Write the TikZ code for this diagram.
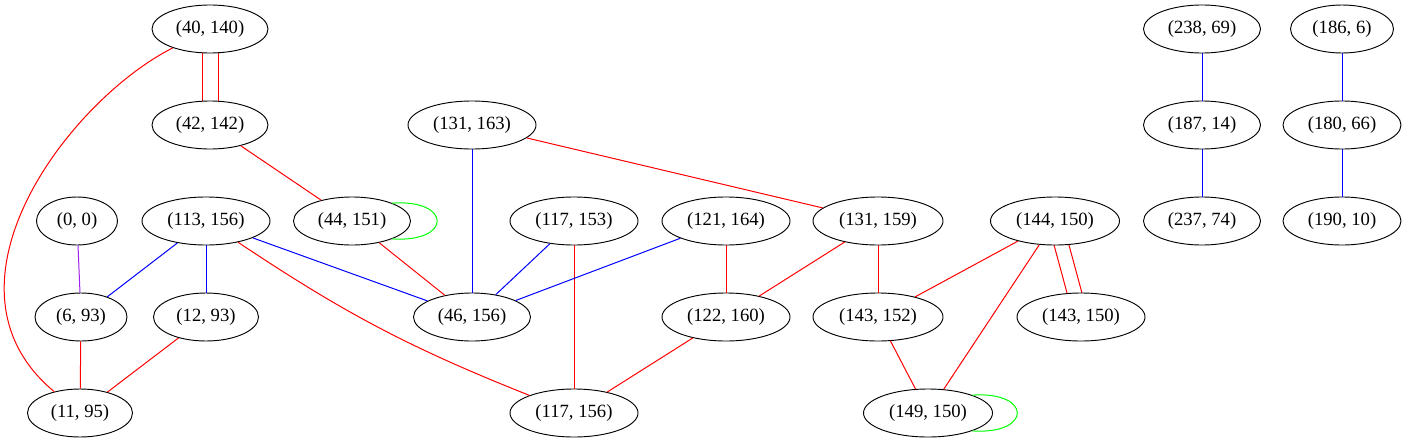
\documentclass[tikz,border=0pt]{standalone}
\usepackage{fontspec}
\setmainfont{Liberation Serif}
\usetikzlibrary{shapes.geometric,backgrounds}
\definecolor{gvpurple}{HTML}{A020F0}
\begin{document}
\begin{tikzpicture}[x=0.75pt,y=-0.75pt,
  nd/.style={draw, ellipse, inner sep=0pt, minimum height=36pt, minimum width=#1*0.75pt, fill=white, line width=0.7pt, font=\fontsize{14pt}{16pt}\selectfont},
  ed/.style={line width=0.75pt},
  re/.style={ed, red},
  be/.style={ed, blue},
  ge/.style={ed, green},
  pe/.style={ed, gvpurple}]
\useasboundingbox (0,0) rectangle (1406,443);
% nodes
\node[nd=116] (a40140) at (210,29) {(40, 140)};
\node[nd=116] (a42142) at (210,125) {(42, 142)};
\node[nd=128] (a131163) at (472,125) {(131, 163)};
\node[nd=117] (a23869) at (1202,29) {(238, 69)};
\node[nd=103] (a1866) at (1342,29) {(186, 6)};
\node[nd=117] (a18714) at (1202,125) {(187, 14)};
\node[nd=118] (a18066) at (1342,125) {(180, 66)};
\node[nd=81] (a00) at (77,221) {(0, 0)};
\node[nd=128] (a113156) at (206,221) {(113, 156)};
\node[nd=117] (a44151) at (352,221) {(44, 151)};
\node[nd=128] (a117153) at (574,221) {(117, 153)};
\node[nd=128] (a121164) at (726,221) {(121, 164)};
\node[nd=130] (a131159) at (878,221) {(131, 159)};
\node[nd=129] (a144150) at (1055,221) {(144, 150)};
\node[nd=117] (a23774) at (1202,221) {(237, 74)};
\node[nd=118] (a19010) at (1342,221) {(190, 10)};
\node[nd=92] (a693) at (81,317) {(6, 93)};
\node[nd=105] (a1293) at (206,317) {(12, 93)};
\node[nd=117] (a46156) at (472,317) {(46, 156)};
\node[nd=128] (a122160) at (726,317) {(122, 160)};
\node[nd=130] (a143152) at (878,317) {(143, 152)};
\node[nd=128] (a143150) at (1081,317) {(143, 150)};
\node[nd=105] (a1195) at (80,413) {(11, 95)};
\node[nd=128] (a117156) at (574,413) {(117, 156)};
\node[nd=129] (a149150) at (928,413) {(149, 150)};
% edges
\begin{pgfonlayer}{background}
\draw[re] ([xshift=-6pt]a40140.center) -- ([xshift=-6pt]a42142.center);
\draw[re] ([xshift=6pt]a40140.center) -- ([xshift=6pt]a42142.center);
\draw[re] ([xshift=-5.6pt]a144150.center) -- ([xshift=-5.6pt]a143150.center);
\draw[re] ([xshift=5.6pt]a144150.center) -- ([xshift=5.6pt]a143150.center);
\end{pgfonlayer}
\draw[re] (a40140) .. controls (68,101) and (-72,287) .. (a1195);
\draw[re] (a42142) -- (a44151);
\draw[ge] (a44151.24) .. controls +(60,-4) and +(60,4) .. (a44151.-24);
\draw[re] (a44151) -- (a46156);
\draw[be] (a131163) -- (a46156);
\draw[re] (a131163) -- (a131159);
\draw[pe] (a00) -- (a693);
\draw[be] (a113156) -- (a693);
\draw[be] (a113156) -- (a1293);
\draw[be] (a113156) -- (a46156);
\draw[re] (a113156) to[bend right=6] (a117156);
\draw[be] (a117153) -- (a46156);
\draw[re] (a117153) -- (a117156);
\draw[be] (a121164) -- (a46156);
\draw[re] (a121164) -- (a122160);
\draw[re] (a131159) -- (a122160);
\draw[re] (a131159) -- (a143152);
\draw[re] (a144150) -- (a143152);
\draw[re] (a144150) -- (a149150);
\draw[re] (a143152) -- (a149150);
\draw[ge] (a149150.22) .. controls +(60,-4) and +(60,4) .. (a149150.-22);
\draw[re] (a693) -- (a1195);
\draw[re] (a1293) -- (a1195);
\draw[re] (a122160) -- (a117156);
\draw[be] (a23869) -- (a18714);
\draw[be] (a18714) -- (a23774);
\draw[be] (a1866) -- (a18066);
\draw[be] (a18066) -- (a19010);
\end{tikzpicture}
\end{document}
